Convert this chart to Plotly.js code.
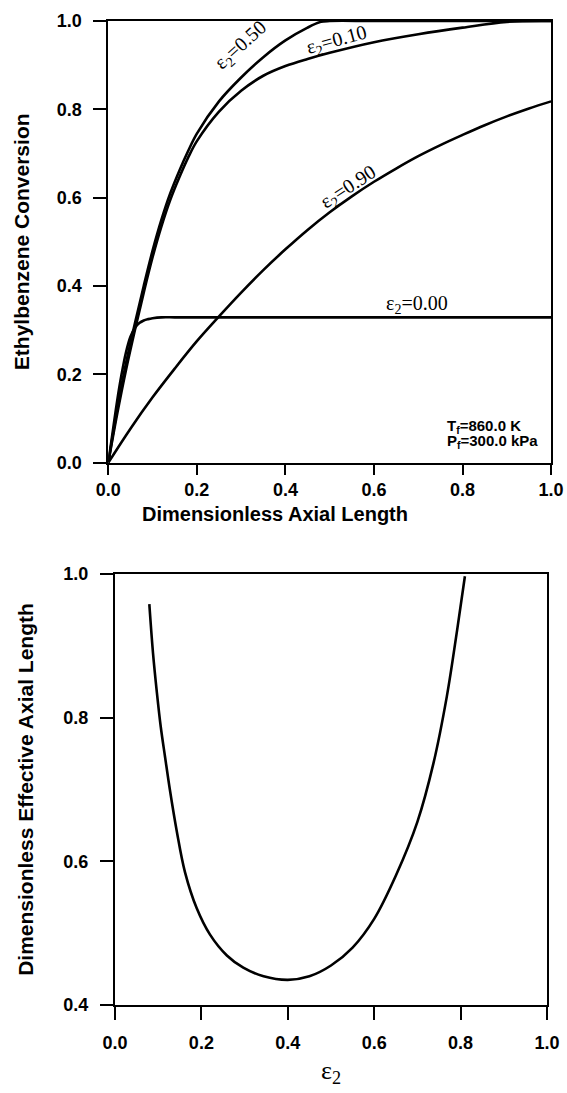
<!DOCTYPE html>
<html>
<head>
<meta charset="utf-8">
<script src="https://cdn.plot.ly/plotly-3.0.1.min.js"></script>
<style>html,body{margin:0;padding:0;background:#fff;}#chart{width:567px;height:1093px;}</style>
</head>
<body>
<div id="chart"></div>
<script>
// ---- Top panel: conversion vs dimensionless axial length ----
const xEps000 = [0, 0.01, 0.02, 0.03, 0.04, 0.05, 0.06, 0.07, 0.08, 0.09, 0.10, 0.12, 0.15, 0.20, 0.30, 0.50, 0.70, 1.00];
const yEps000 = [0, 0.07, 0.14, 0.20, 0.25, 0.285, 0.305, 0.316, 0.322, 0.325, 0.327, 0.329, 0.329, 0.329, 0.329, 0.329, 0.329, 0.329];

const xEps010 = [0, 0.02, 0.04, 0.06, 0.08, 0.10, 0.12, 0.14, 0.16, 0.18, 0.20, 0.25, 0.30, 0.35, 0.40, 0.45, 0.50, 0.60, 0.70, 0.80, 0.90, 1.00];
const yEps010 = [0, 0.11, 0.21, 0.30, 0.385, 0.465, 0.535, 0.595, 0.645, 0.69, 0.728, 0.795, 0.842, 0.876, 0.898, 0.914, 0.928, 0.952, 0.970, 0.985, 0.998, 1.00];

const xEps050 = [0, 0.02, 0.04, 0.06, 0.08, 0.10, 0.12, 0.14, 0.16, 0.18, 0.20, 0.25, 0.30, 0.35, 0.40, 0.45, 0.48, 0.50, 0.60, 0.80, 1.00];
const yEps050 = [0, 0.12, 0.225, 0.315, 0.40, 0.48, 0.55, 0.61, 0.66, 0.705, 0.745, 0.818, 0.872, 0.918, 0.956, 0.985, 0.998, 1.00, 1.00, 1.00, 1.00];

const xEps090 = [0, 0.05, 0.10, 0.15, 0.20, 0.25, 0.30, 0.35, 0.40, 0.45, 0.50, 0.55, 0.60, 0.65, 0.70, 0.75, 0.80, 0.85, 0.90, 0.95, 1.00];
const yEps090 = [0, 0.077, 0.148, 0.213, 0.275, 0.331, 0.385, 0.436, 0.483, 0.527, 0.567, 0.603, 0.636, 0.666, 0.694, 0.719, 0.742, 0.764, 0.784, 0.802, 0.818];

const curveLabels = ["ε<sub>2</sub>=0.00", "ε<sub>2</sub>=0.10", "ε<sub>2</sub>=0.50", "ε<sub>2</sub>=0.90"];
const condLabels = ["T<sub>f</sub>=860.0 K", "P<sub>f</sub>=300.0 kPa"];
const titleTopX = 'Dimensionless Axial Length';
const titleTopY = 'Ethylbenzene Conversion';
const titleBotX = 'ε<sub>2</sub>';
const titleBotY = 'Dimensionless Effective Axial Length';

// ---- Bottom panel: effective axial length vs epsilon2 ----
const xEff = [0.0795, 0.088, 0.097, 0.106, 0.116, 0.127, 0.143, 0.162, 0.189, 0.220, 0.259, 0.297, 0.344, 0.400, 0.450, 0.500, 0.550, 0.600, 0.650, 0.700, 0.737, 0.768, 0.792, 0.810];
const yEff = [0.958, 0.890, 0.835, 0.787, 0.745, 0.700, 0.642, 0.585, 0.535, 0.498, 0.469, 0.452, 0.440, 0.435, 0.440, 0.455, 0.480, 0.520, 0.580, 0.655, 0.736, 0.829, 0.922, 0.997];

const tickVals1 = [0, 0.2, 0.4, 0.6, 0.8, 1.0];
const tickText1 = ["0.0", "0.2", "0.4", "0.6", "0.8", "1.0"];
const tickVals2 = [0.4, 0.6, 0.8, 1.0];
const tickText2 = ["0.4", "0.6", "0.8", "1.0"];

const lineStyle = {color: '#000', width: 2.6, shape: 'spline', smoothing: 1};
const traces = [
  {x: xEps000, y: yEps000, mode: 'lines', line: lineStyle, xaxis: 'x', yaxis: 'y', hoverinfo: 'skip'},
  {x: xEps010, y: yEps010, mode: 'lines', line: lineStyle, xaxis: 'x', yaxis: 'y', hoverinfo: 'skip'},
  {x: xEps050, y: yEps050, mode: 'lines', line: lineStyle, xaxis: 'x', yaxis: 'y', hoverinfo: 'skip'},
  {x: xEps090, y: yEps090, mode: 'lines', line: lineStyle, xaxis: 'x', yaxis: 'y', hoverinfo: 'skip'},
  {x: xEff, y: yEff, mode: 'lines', line: lineStyle, xaxis: 'x2', yaxis: 'y2', hoverinfo: 'skip'}
];

const sans = 'Liberation Sans, Arial, sans-serif';
const serifFam = 'Liberation Serif, Times New Roman, serif';
const yTitleFont = {family: sans, size: 21, color: '#000', weight: 'bold'};
const xTitleFont = {family: sans, size: 20, color: '#000', weight: 'bold'};
const tickFont = {family: sans, size: 18, color: '#000', weight: 'bold'};
const serif = {family: serifFam, size: 20, color: '#000'};
const condFont = {family: sans, size: 15, color: '#000', weight: 'bold'};

function axisBase(extra) {
  return Object.assign({
    showline: true, mirror: true, linecolor: '#000', linewidth: 2,
    ticks: 'outside', ticklen: 13, tickwidth: 2, tickcolor: '#000',
    showgrid: false, zeroline: false, tickfont: tickFont, tickmode: 'array'
  }, extra);
}

const layout = {
  width: 567, height: 1093,
  margin: {l: 0, r: 0, t: 0, b: 0},
  paper_bgcolor: '#fff', plot_bgcolor: '#fff',
  showlegend: false,
  xaxis: axisBase({domain: [0.191, 0.972], range: [0, 1], anchor: 'y', tickvals: tickVals1, ticktext: tickText1,
    ticklen: 10, ticklabelstandoff: 0}),
  yaxis: axisBase({domain: [0.5767, 0.9808], range: [0, 1], anchor: 'x', tickvals: tickVals1, ticktext: tickText1,
    ticklabelstandoff: 8,
    title: {text: titleTopY, font: yTitleFont, standoff: 21}}),
  xaxis2: axisBase({domain: [0.2028, 0.9647], range: [0, 1], anchor: 'y2', tickvals: tickVals1, ticktext: tickText1,
    ticklabelstandoff: 7,
    title: {text: titleBotX, font: {family: serifFam, size: 26, color: '#000'}, standoff: 9}}),
  yaxis2: axisBase({domain: [0.0805, 0.4748], range: [0.4, 1.0], anchor: 'x2', tickvals: tickVals2, ticktext: tickText2,
    ticklabelstandoff: 8,
    title: {text: titleBotY, font: yTitleFont, standoff: 24}}),
  annotations: [
    {text: titleTopX, x: 0.485, y: 0.5295, xref: 'paper', yref: 'paper', showarrow: false, font: xTitleFont, borderpad: 0},
    {text: curveLabels[0], x: 0.697, y: 0.358, xref: 'x', yref: 'y', showarrow: false, font: serif, textangle: 0},
    {text: curveLabels[1], x: 0.517, y: 0.955, xref: 'x', yref: 'y', showarrow: false, font: serif, textangle: -15},
    {text: curveLabels[2], x: 0.300, y: 0.945, xref: 'x', yref: 'y', showarrow: false, font: serif, textangle: -42},
    {text: curveLabels[3], x: 0.543, y: 0.622, xref: 'x', yref: 'y', showarrow: false, font: serif, textangle: -33},
    {text: condLabels[0], x: 0.763, y: 0.083, xref: 'x', yref: 'y', xanchor: 'left', showarrow: false, font: condFont, borderpad: 0},
    {text: condLabels[1], x: 0.763, y: 0.049, xref: 'x', yref: 'y', xanchor: 'left', showarrow: false, font: condFont, borderpad: 0}
  ]
};

Plotly.newPlot('chart', traces, layout, {staticPlot: true, displayModeBar: false});
</script>
</body>
</html>
